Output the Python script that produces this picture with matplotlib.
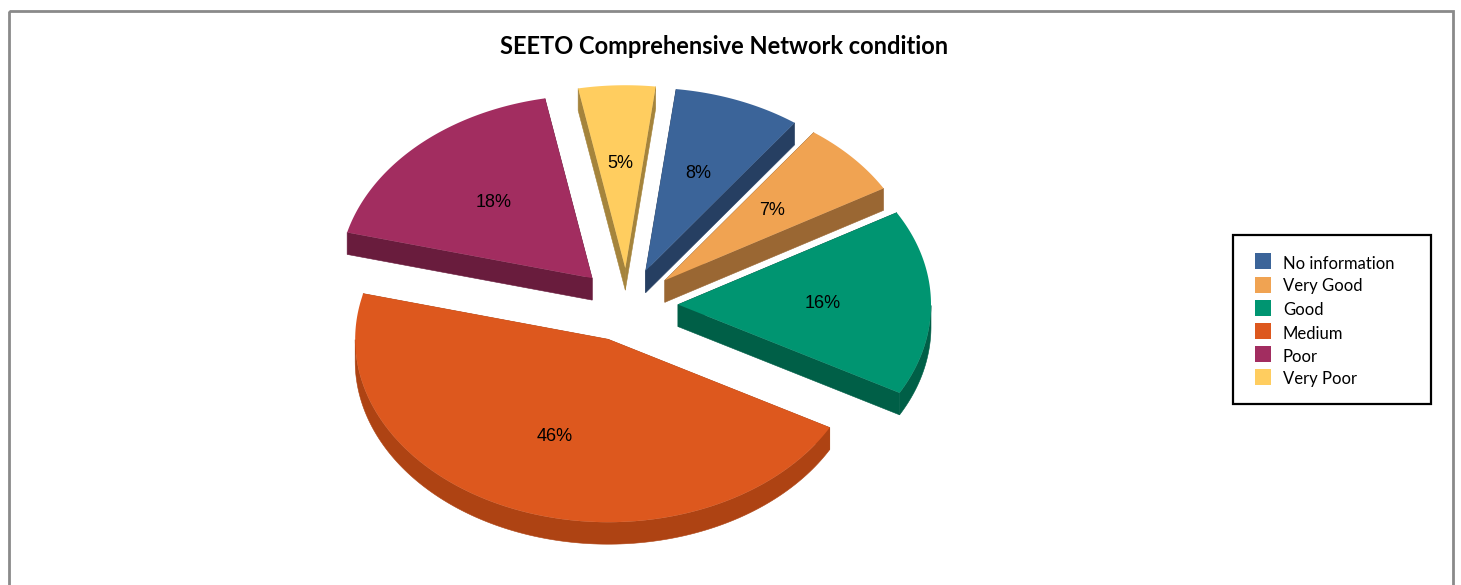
import numpy as np
import matplotlib.pyplot as plt
from matplotlib.patches import Polygon, Rectangle

# Slice data
categories = ['No information', 'Very Good', 'Good', 'Medium', 'Poor', 'Very Poor']
values = [8.1, 6.6, 16.4, 46.0, 18.0, 4.9]
colors = ['#3B6499', '#F0A352', '#009571', '#DD581E', '#A22D60', '#FFCD5F']
side_colors = ['#263F62', '#9A6733', '#005F47', '#AE4313', '#691C3D', '#A5843C']

title = 'SEETO Comprehensive Network condition'

W, H = 1461, 585
cx, cy = 627, 305
radius = 253
squash = 0.723
explode = 51
depth = 22
start_angle = 6.9


def point(angle, r):
    """Screen offset for an angle measured clockwise from north."""
    a = np.radians(angle)
    return np.array([r * np.sin(a), -r * squash * np.cos(a)])


def slice_arc(a0, a1):
    mid = (a0 + a1) / 2
    apex = np.array([cx, cy]) + point(mid, explode)
    angles = np.linspace(a0, a1, 160)
    return apex, np.array([apex + point(t, radius) for t in angles])


def add_wall(ax, edge, color):
    """Extrude a run of points straight down the screen as a single polygon."""
    shifted = edge[::-1] + [0, depth]
    ax.add_patch(Polygon(np.vstack([edge, shifted]), closed=True, facecolor=color,
                         edgecolor=color, linewidth=0.4))


fig = plt.figure(figsize=(W / 100, H / 100), dpi=100)
ax = fig.add_axes([0, 0, 1, 1])
ax.set_xlim(0, W)
ax.set_ylim(H, 0)
ax.axis('off')

# Outer chart frame, runs off the bottom of the image
ax.add_patch(Rectangle((9, 10.5), 1444, 600, fill=False, edgecolor='#8A8A8A', linewidth=2))

ax.text(724, 47, title, ha='center', va='center', fontsize=17, fontweight='bold',
        family='Lato', color='black')

# Slices
fractions = np.array(values) / sum(values)
edges = start_angle + 360 * np.concatenate([[0], np.cumsum(fractions)])
for i in range(len(values)):
    apex, arc = slice_arc(edges[i], edges[i + 1])
    add_wall(ax, np.array([apex, arc[0]]), side_colors[i])
    add_wall(ax, np.array([apex, arc[-1]]), side_colors[i])
    # only the part of the rim that faces the viewer can show
    mids = (edges[i] + np.linspace(0, 1, len(arc)) * (edges[i + 1] - edges[i])) % 360
    front = arc[(mids >= 90) & (mids <= 270)]
    if len(front) > 1:
        add_wall(ax, front, side_colors[i])
    ax.add_patch(Polygon(np.vstack([apex, arc]), closed=True, facecolor=colors[i],
                         edgecolor='none'))

    mid = (edges[i] + edges[i + 1]) / 2
    label_pos = np.array([cx, cy]) + point(mid, explode + radius * 0.57)
    ax.text(label_pos[0], label_pos[1], f'{round(values[i])}%', ha='center', va='center',
            fontsize=13, family='Liberation Sans', color='black')

# Legend
ax.add_patch(Rectangle((1233, 234.5), 198, 169.5, facecolor='white', edgecolor='black',
                       linewidth=1.6))
swatch_y = [261, 285, 308, 331, 354, 377]
legend_y = [264, 286.5, 310, 334, 356.5, 379]
for name, color, sy, y in zip(categories, colors, swatch_y, legend_y):
    ax.add_patch(Rectangle((1255, sy - 8), 16, 16, facecolor=color, edgecolor='none'))
    ax.text(1283, y, name, ha='left', va='center', fontsize=12, family='Lato', color='black')

fig.savefig('out.png', dpi=100, facecolor='white')
plt.close(fig)
